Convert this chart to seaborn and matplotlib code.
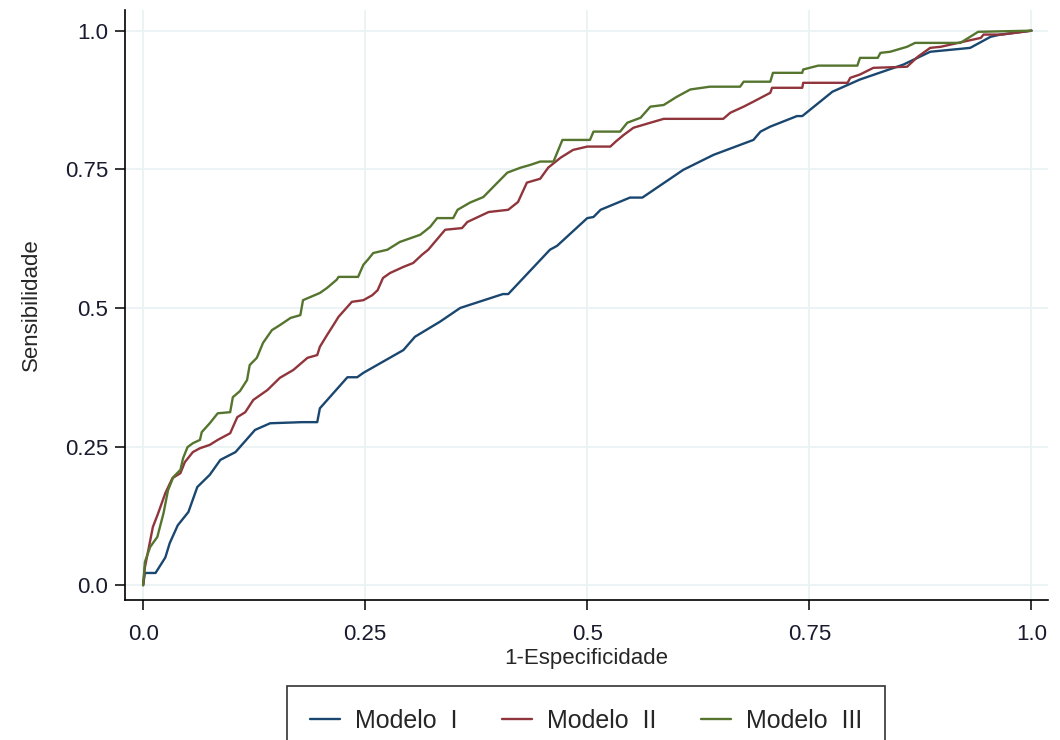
import pandas as pd
import matplotlib
matplotlib.use("Agg")
import matplotlib.pyplot as plt
import seaborn as sns

# ROC curves (1-specificity, sensitivity)
fpr_m1 = [0.0, 0.002, 0.014, 0.025, 0.030, 0.039, 0.051, 0.061, 0.075, 0.087,
          0.104, 0.126, 0.143, 0.179, 0.196, 0.199, 0.230, 0.241, 0.248, 0.293,
          0.306, 0.334, 0.357, 0.405, 0.411, 0.458, 0.466, 0.500, 0.507, 0.515,
          0.548, 0.562, 0.608, 0.642, 0.687, 0.695, 0.706, 0.736, 0.742, 0.776,
          0.807, 0.856, 0.886, 0.931, 0.954, 0.965, 1.0]
sens_m1 = [0.0, 0.022, 0.022, 0.050, 0.076, 0.108, 0.132, 0.177, 0.199, 0.226,
           0.240, 0.280, 0.292, 0.294, 0.294, 0.319, 0.375, 0.375, 0.383, 0.424,
           0.448, 0.475, 0.500, 0.525, 0.525, 0.605, 0.612, 0.662, 0.664, 0.677,
           0.699, 0.699, 0.749, 0.776, 0.803, 0.818, 0.827, 0.846, 0.846, 0.890,
           0.912, 0.939, 0.962, 0.969, 0.989, 0.993, 1.0]

fpr_m2 = [0.0, 0.002, 0.011, 0.017, 0.025, 0.033, 0.042, 0.047, 0.056, 0.064,
          0.075, 0.084, 0.098, 0.106, 0.115, 0.124, 0.140, 0.154, 0.169, 0.185,
          0.196, 0.199, 0.207, 0.213, 0.220, 0.225, 0.235, 0.248, 0.258, 0.264,
          0.270, 0.278, 0.293, 0.304, 0.314, 0.321, 0.340, 0.359, 0.365, 0.389,
          0.411, 0.422, 0.432, 0.447, 0.456, 0.470, 0.484, 0.500, 0.526, 0.532,
          0.541, 0.552, 0.571, 0.586, 0.653, 0.661, 0.676, 0.687, 0.706, 0.708,
          0.742, 0.743, 0.793, 0.796, 0.807, 0.822, 0.860, 0.872, 0.886, 0.898,
          0.923, 0.943, 0.946, 0.967, 1.0]
sens_m2 = [0.0, 0.032, 0.105, 0.130, 0.166, 0.193, 0.202, 0.222, 0.240, 0.247,
           0.253, 0.262, 0.274, 0.303, 0.312, 0.334, 0.352, 0.374, 0.388, 0.410,
           0.415, 0.430, 0.451, 0.466, 0.484, 0.493, 0.511, 0.514, 0.523, 0.532,
           0.554, 0.563, 0.574, 0.581, 0.596, 0.605, 0.641, 0.644, 0.655, 0.673,
           0.677, 0.691, 0.726, 0.733, 0.753, 0.771, 0.785, 0.791, 0.791, 0.800,
           0.812, 0.825, 0.834, 0.841, 0.841, 0.852, 0.863, 0.872, 0.888, 0.897,
           0.897, 0.906, 0.906, 0.915, 0.921, 0.933, 0.935, 0.953, 0.969, 0.971,
           0.980, 0.987, 0.993, 0.993, 1.0]

fpr_m3 = [0.0, 0.002, 0.008, 0.016, 0.023, 0.028, 0.034, 0.042, 0.045, 0.050,
          0.056, 0.064, 0.066, 0.075, 0.084, 0.098, 0.101, 0.109, 0.117, 0.120,
          0.128, 0.135, 0.145, 0.154, 0.166, 0.177, 0.180, 0.199, 0.207, 0.218,
          0.220, 0.242, 0.248, 0.253, 0.259, 0.275, 0.289, 0.312, 0.323, 0.331,
          0.349, 0.354, 0.368, 0.383, 0.394, 0.410, 0.425, 0.436, 0.447, 0.462,
          0.472, 0.503, 0.507, 0.537, 0.545, 0.560, 0.571, 0.586, 0.601, 0.616,
          0.638, 0.672, 0.676, 0.706, 0.709, 0.742, 0.743, 0.760, 0.804, 0.807,
          0.827, 0.830, 0.841, 0.860, 0.869, 0.920, 0.935, 0.940, 1.0]
sens_m3 = [0.0, 0.042, 0.069, 0.087, 0.130, 0.171, 0.195, 0.208, 0.229, 0.249,
           0.256, 0.262, 0.276, 0.292, 0.310, 0.312, 0.339, 0.350, 0.370, 0.397,
           0.410, 0.437, 0.460, 0.469, 0.482, 0.487, 0.514, 0.527, 0.536, 0.551,
           0.556, 0.556, 0.578, 0.587, 0.599, 0.605, 0.619, 0.632, 0.646, 0.662,
           0.662, 0.677, 0.690, 0.700, 0.718, 0.744, 0.753, 0.758, 0.764, 0.764,
           0.803, 0.803, 0.818, 0.818, 0.834, 0.843, 0.863, 0.866, 0.881, 0.894,
           0.899, 0.899, 0.908, 0.908, 0.924, 0.924, 0.930, 0.937, 0.937, 0.951,
           0.951, 0.960, 0.962, 0.971, 0.978, 0.978, 0.993, 0.998, 1.0]

model_names = ["Modelo  I", "Modelo  II", "Modelo  III"]
model_colors = ["#1a476f", "#90353b", "#55752f"]
ticks = [0.0, 0.25, 0.5, 0.75, 1.0]
tick_labels = ["0.0", "0.25", "0.5", "0.75", "1.0"]

frames = []
for name, fx, sy in zip(model_names, [fpr_m1, fpr_m2, fpr_m3],
                        [sens_m1, sens_m2, sens_m3]):
    frames.append(pd.DataFrame({"fpr": fx, "sens": sy, "modelo": name}))
roc = pd.concat(frames, ignore_index=True)

sns.set_style("white")
plt.rcParams["font.family"] = ["Liberation Sans", "DejaVu Sans"]
plt.rcParams["font.size"] = 16

fig = plt.figure(figsize=(10.6, 7.4), dpi=100)
ax = fig.add_axes([0.118, 0.189, 0.871, 0.798])

sns.lineplot(data=roc, x="fpr", y="sens", hue="modelo", palette=model_colors,
             sort=False, estimator=None, linewidth=1.7, ax=ax, legend=False)

ax.set_xlim(-0.0203, 1.019)
ax.set_ylim(-0.027, 1.038)
ax.set_xticks(ticks)
ax.set_xticklabels(tick_labels)
ax.set_yticks(ticks)
ax.set_yticklabels(tick_labels)
ax.grid(True, color="#eaf2f3", linewidth=1.3)
ax.set_axisbelow(True)
for side in ["top", "right"]:
    ax.spines[side].set_visible(False)
for side in ["left", "bottom"]:
    ax.spines[side].set_color("black")
    ax.spines[side].set_linewidth(1.2)
ax.tick_params(axis="both", direction="out", length=7, width=1.1,
               color="black", labelcolor="#1a1a2e", labelsize=16,
               left=True, bottom=True)
ax.tick_params(axis="x", pad=10)
ax.tick_params(axis="y", pad=5)
ax.set_xlabel("1-Especificidade", fontsize=16, labelpad=2)
ax.set_ylabel("Sensibilidade", fontsize=16, labelpad=17)

handles = [plt.Line2D([], [], color=c, linewidth=1.7) for c in model_colors]
leg = fig.legend(handles, model_names, loc="upper center",
                 bbox_to_anchor=(0.553, 1 - 686 / 740), ncol=3, frameon=True,
                 fancybox=False, edgecolor="black", fontsize=18,
                 handlelength=1.2, handletextpad=0.6, columnspacing=1.8,
                 borderpad=0.9, borderaxespad=0)
leg.get_frame().set_linewidth(1.2)

fig.savefig("out.png", dpi=100, facecolor="white")
